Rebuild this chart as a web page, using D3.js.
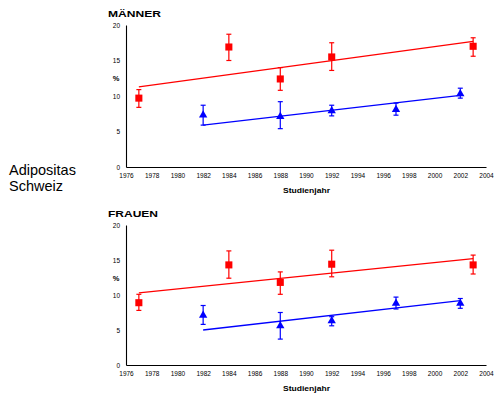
<!DOCTYPE html>
<html>
<head>
<meta charset="utf-8">
<script src="https://cdn.jsdelivr.net/npm/d3@7"></script>
<style>
  body { margin: 0; background: #fff; }
  text { font-family: "Liberation Sans", Arial, sans-serif; }
</style>
</head>
<body>
<script>
// Männer, rot (Quadrate)
let menRedYears = [1977, 1984, 1988, 1992, 2003];
let menRedVals = [9.7, 16.9, 12.4, 15.5, 17.0];
let menRedLow = [8.4, 15.0, 10.8, 13.6, 15.6];
let menRedHigh = [10.9, 18.7, 14.0, 17.5, 18.2];
let menRedTrend = [[1977, 11.3], [2003, 17.7]];

// Männer, blau (Dreiecke)
let menBlueYears = [1982, 1988, 1992, 1997, 2002];
let menBlueVals = [7.3, 7.1, 7.9, 8.1, 10.3];
let menBlueLow = [5.9, 5.4, 7.2, 7.3, 9.7];
let menBlueHigh = [8.7, 9.2, 8.7, 9.0, 11.1];
let menBlueTrend = [[1982, 5.9], [2002, 10.1]];

// Frauen, rot
let womenRedYears = [1977, 1984, 1988, 1992, 2003];
let womenRedVals = [8.9, 14.3, 11.8, 14.4, 14.3];
let womenRedLow = [7.8, 12.4, 10.1, 12.6, 13.0];
let womenRedHigh = [10.1, 16.3, 13.3, 16.4, 15.7];
let womenRedTrend = [[1977, 10.3], [2003, 15.2]];

// Frauen, blau
let womenBlueYears = [1982, 1988, 1992, 1997, 2002];
let womenBlueVals = [7.1, 5.6, 6.3, 8.8, 8.8];
let womenBlueLow = [5.8, 3.7, 5.6, 8.0, 8.1];
let womenBlueHigh = [8.5, 7.5, 6.9, 9.7, 9.5];
let womenBlueTrend = [[1982, 5.0], [2002, 9.2]];

let xTicks = d3.range(1976, 2005, 2);
let yTicks = [0, 5, 10, 15, 20];

let svg = d3.select("body").append("svg")
    .attr("width", 494)
    .attr("height", 394);

svg.append("text").attr("x", 9).attr("y", 175)
    .style("font-size", "14.5px").text("Adipositas");
svg.append("text").attr("x", 9).attr("y", 191)
    .style("font-size", "14.5px").text("Schweiz");

function series(years, vals, low, high) {
    return years.map((y, i) => ({year: y, v: vals[i], lo: low[i], hi: high[i]}));
}

function panel(top, bottom, title, titleLen, red, blue, redTrend, blueTrend) {
    let x = d3.scaleLinear().domain([1976, 2004]).range([126, 486]);
    let y = d3.scaleLinear().domain([0, 20]).range([bottom, top]);
    let g = svg.append("g");

    g.append("text").attr("x", 108).attr("y", top - 8)
        .attr("textLength", titleLen).attr("lengthAdjust", "spacingAndGlyphs")
        .style("font-size", "9px").style("font-weight", "bold").text(title);

    // axes
    let ya = g.append("g").attr("transform", "translate(126,0)")
        .call(d3.axisLeft(y).tickValues(yTicks).tickSize(0).tickPadding(6));
    ya.select(".domain").attr("stroke", "#000").attr("stroke-width", 1.1);
    ya.selectAll("text").style("font-size", "6.5px").attr("fill", "#000").attr("font-family", null);

    let xa = g.append("g").attr("transform", "translate(0," + bottom + ")")
        .call(d3.axisBottom(x).tickValues(xTicks).tickFormat(d3.format("d")).tickSize(0).tickPadding(6));
    xa.select(".domain").attr("stroke", "#000").attr("stroke-width", 1.1);
    xa.selectAll("text").style("font-size", "6.5px").attr("fill", "#000").attr("font-family", null);

    g.append("text").attr("x", 116).attr("y", y(12.5) + 3)
        .attr("text-anchor", "middle")
        .style("font-size", "7.5px").style("font-weight", "bold").text("%");

    g.append("text").attr("x", 283).attr("y", bottom + 26)
        .attr("textLength", 47).attr("lengthAdjust", "spacingAndGlyphs")
        .style("font-size", "7.5px").style("font-weight", "bold").text("Studienjahr");

    let line = d3.line().x(d => x(d[0])).y(d => y(d[1]));
    g.append("path").datum(redTrend).attr("d", line)
        .attr("fill", "none").attr("stroke", "#ff0000").attr("stroke-width", 1.3);
    g.append("path").datum(blueTrend).attr("d", line)
        .attr("fill", "none").attr("stroke", "#0000ff").attr("stroke-width", 1.3);

    [[red, "#ff0000", d3.symbolSquare, 50], [blue, "#0000ff", d3.symbolTriangle, 30]].forEach(([data, col, sym, size]) => {
        let pts = g.selectAll(null).data(data).enter().append("g")
            .attr("stroke", col).attr("fill", col);
        pts.append("line")
            .attr("x1", d => x(d.year)).attr("x2", d => x(d.year))
            .attr("y1", d => y(d.lo)).attr("y2", d => y(d.hi))
            .attr("stroke-width", 1.2);
        pts.append("line")
            .attr("x1", d => x(d.year) - 2.5).attr("x2", d => x(d.year) + 2.5)
            .attr("y1", d => y(d.lo)).attr("y2", d => y(d.lo))
            .attr("stroke-width", 1.2);
        pts.append("line")
            .attr("x1", d => x(d.year) - 2.5).attr("x2", d => x(d.year) + 2.5)
            .attr("y1", d => y(d.hi)).attr("y2", d => y(d.hi))
            .attr("stroke-width", 1.2);
        pts.append("path")
            .attr("d", d3.symbol().type(sym).size(size))
            .attr("stroke", "none")
            .attr("transform", d => "translate(" + x(d.year) + "," + y(d.v) + ")");
    });
}

panel(25, 167, "MÄNNER", 53,
    series(menRedYears, menRedVals, menRedLow, menRedHigh),
    series(menBlueYears, menBlueVals, menBlueLow, menBlueHigh),
    menRedTrend, menBlueTrend);

panel(225, 365, "FRAUEN", 50,
    series(womenRedYears, womenRedVals, womenRedLow, womenRedHigh),
    series(womenBlueYears, womenBlueVals, womenBlueLow, womenBlueHigh),
    womenRedTrend, womenBlueTrend);
</script>
</body>
</html>
